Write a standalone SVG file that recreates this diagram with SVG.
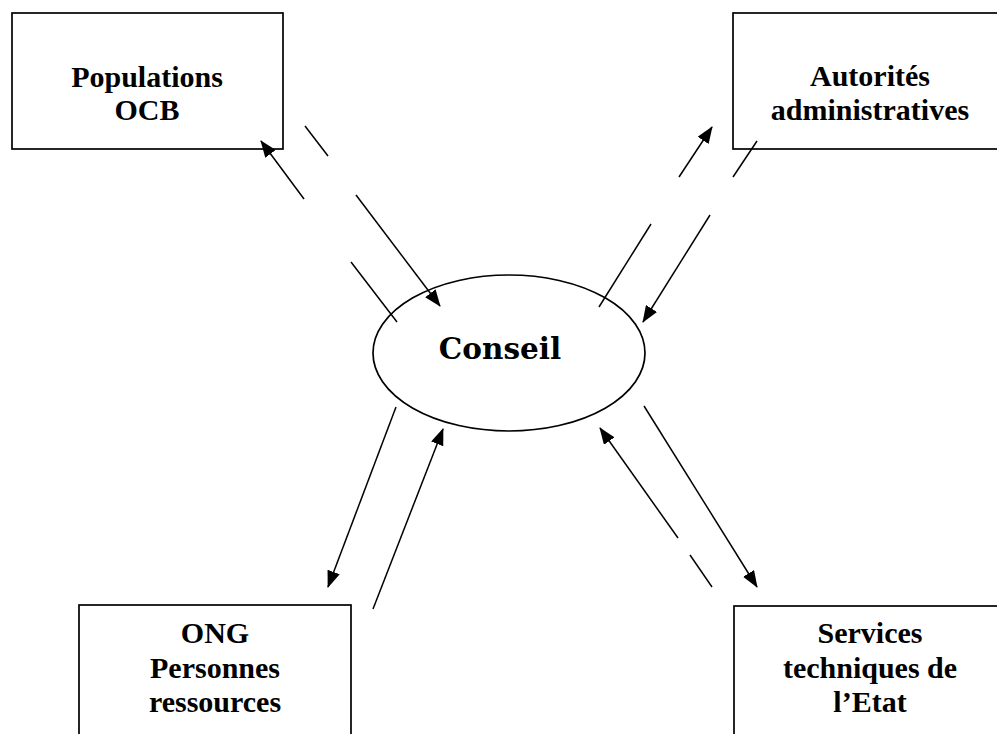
<svg xmlns="http://www.w3.org/2000/svg" width="997" height="734" viewBox="0 0 997 734">
<style>
.box{fill:#fff;stroke:#000;stroke-width:1.7}
.lbl{font-family:"Liberation Serif","Times New Roman",serif;font-weight:bold;font-size:30px;text-anchor:middle;fill:#000}
.ctr{font-family:"DejaVu Serif",serif;font-weight:bold;font-size:29.5px;text-anchor:middle;fill:#000}
.ln{fill:none;stroke:#000;stroke-width:1.5}
</style>
<defs>
<marker id="ah" viewBox="0 0 17 13" refX="16" refY="6.5" markerWidth="17" markerHeight="13" markerUnits="userSpaceOnUse" orient="auto">
<path d="M0,0 L17,6.5 L0,13 z" fill="#000"/>
</marker>
</defs>
<rect width="997" height="734" fill="#fff"/>
<g id="populations">
<rect class="box" x="12" y="13" width="271" height="136"/>
<text class="lbl" x="147" y="87">Populations</text>
<text class="lbl" x="147" y="120">OCB</text>
</g>
<g id="autorites">
<rect class="box" x="733" y="13" width="274" height="136"/>
<text class="lbl" x="870" y="86">Autorités</text>
<text class="lbl" x="870" y="120">administratives</text>
</g>
<g id="ong">
<rect class="box" x="79" y="605" width="272" height="140"/>
<text class="lbl" x="215" y="643">ONG</text>
<text class="lbl" x="215" y="678">Personnes</text>
<text class="lbl" x="215" y="712">ressources</text>
</g>
<g id="services">
<rect class="box" x="734" y="606" width="274" height="140"/>
<text class="lbl" x="870" y="643">Services</text>
<text class="lbl" x="870" y="678">techniques de</text>
<text class="lbl" x="870" y="712">l’Etat</text>
</g>
<g id="conseil">
<ellipse class="box" cx="509" cy="353" rx="136" ry="78"/>
<text class="ctr" x="500" y="359">Conseil</text>
</g>
<g id="connectors">
<line class="ln" x1="304" y1="199" x2="261" y2="141" marker-end="url(#ah)"/>
<line class="ln" x1="305" y1="126" x2="328" y2="156"/>
<line class="ln" x1="356" y1="195" x2="440" y2="306" marker-end="url(#ah)"/>
<line class="ln" x1="351" y1="262" x2="397" y2="322"/>
<line class="ln" x1="599" y1="307" x2="651" y2="224"/>
<line class="ln" x1="679" y1="177" x2="712" y2="127" marker-end="url(#ah)"/>
<line class="ln" x1="757" y1="141" x2="733" y2="177"/>
<line class="ln" x1="710" y1="215" x2="643" y2="322" marker-end="url(#ah)"/>
<line class="ln" x1="396" y1="407" x2="328" y2="587" marker-end="url(#ah)"/>
<line class="ln" x1="373" y1="609" x2="443" y2="429" marker-end="url(#ah)"/>
<line class="ln" x1="678" y1="538" x2="600" y2="428" marker-end="url(#ah)"/>
<line class="ln" x1="690" y1="555" x2="712" y2="587"/>
<line class="ln" x1="644" y1="406" x2="757" y2="587" marker-end="url(#ah)"/>
</g>
</svg>
